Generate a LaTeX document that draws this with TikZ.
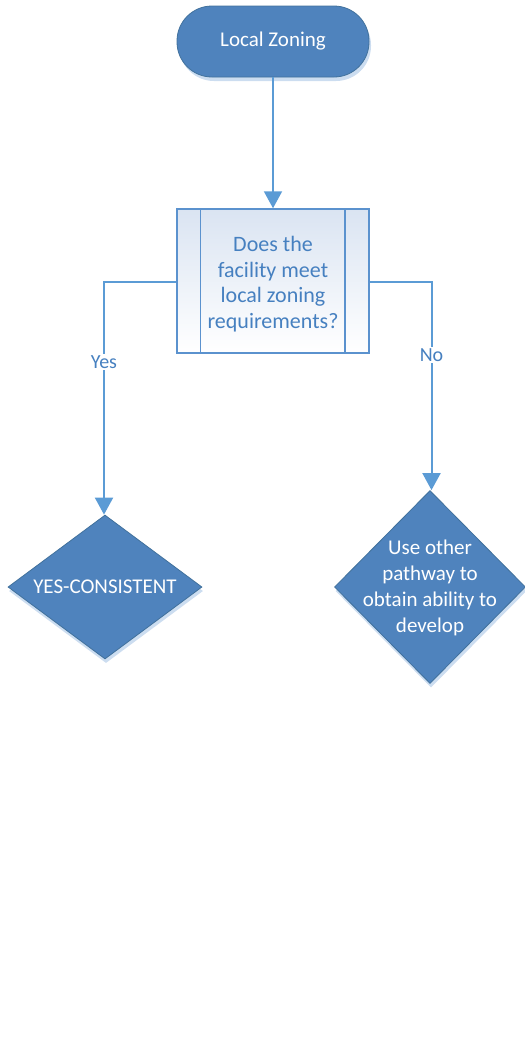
\documentclass[tikz,border=0pt]{standalone}
\usepackage{fontspec}
\setmainfont{Carlito}
\usetikzlibrary{shapes.geometric,arrows.meta}
\definecolor{nodefill}{RGB}{79,131,189}
\definecolor{nodeedge}{RGB}{65,113,156}
\definecolor{shadowc}{RGB}{204,221,240}
\definecolor{linec}{RGB}{91,155,213}
\definecolor{procedge}{RGB}{91,146,206}
\definecolor{proctop}{RGB}{218,228,242}
\definecolor{proctext}{RGB}{70,128,192}
\tikzset{
  terminal/.style={rectangle, rounded corners=35pt, minimum width=192pt, minimum height=71pt, inner sep=0pt},
  termmain/.style={terminal, fill=nodefill, draw=nodeedge, line width=0.8pt, text=white},
  procbox/.style={rectangle, minimum width=192pt, minimum height=144pt, inner sep=0pt, draw=procedge, line width=1.5pt, top color=proctop, bottom color=white},
  diam/.style={diamond, inner sep=0pt, aspect=1},
  diammain/.style={diam, fill=nodefill, draw=nodeedge, line width=0.8pt},
  shadowst/.style={fill=shadowc, draw=none},
  conn/.style={draw=linec, line width=2pt, -{Triangle[length=17pt,width=18pt]}},
  lab/.style={fill=white, text=proctext, inner sep=2pt, font=\fontsize{20}{24}\selectfont},
  whitetext/.style={text=white, align=center, font=\fontsize{21}{26}\selectfont}
}
\begin{document}
\begin{tikzpicture}[x=1pt,y=-1pt]
\useasboundingbox (0,0) rectangle (525,1053);
% shadows
\node[terminal, shadowst, xshift=2pt, yshift=-4pt] at (273,41.5) {};
\node[diam, shadowst, minimum width=194pt, minimum height=144pt, xshift=1pt, yshift=-4pt] at (105,587) {};
\node[diam, shadowst, minimum width=191pt, minimum height=193pt, xshift=1pt, yshift=-4pt] at (430,587) {};
% nodes
\node[termmain, font=\fontsize{21}{25}\selectfont] (start) at (273,41.5) {Local Zoning};
\node[procbox] (q) at (273,281) {};
\draw[procedge, line width=1.5pt] ([xshift=24pt]q.north west) -- ([xshift=24pt]q.south west);
\draw[procedge, line width=1.5pt] ([xshift=-25pt]q.north east) -- ([xshift=-25pt]q.south east);
\node[text=proctext, align=center, font=\fontsize{22}{25.7}\selectfont] (qt) at (273,284) {Does the\\facility meet\\local zoning\\requirements?};
\node[diammain, minimum width=194pt, minimum height=144pt] (yes) at (105,587) {};
\node[whitetext] (yest) at (yes.center) {YES-CONSISTENT};
\node[diammain, minimum width=191pt, minimum height=193pt] (no) at (430,587) {};
\node[whitetext] (not) at ([yshift=-1pt]no.center) {Use other\\pathway to\\obtain ability to\\develop};
% connectors
\coordinate (lc) at (104,282);
\coordinate (rc) at (431.5,282);
\draw[conn] (start.south) -- (q.north);
\draw[conn] (q.west |- lc) -- (lc) -- (lc |- yes.north);
\draw[conn] (q.east |- rc) -- (rc) -- (rc |- no.north);
\node[lab] (ylab) at (104,362) {Yes};
\node[lab] (nlab) at (431.5,355) {No};
\end{tikzpicture}
\end{document}
